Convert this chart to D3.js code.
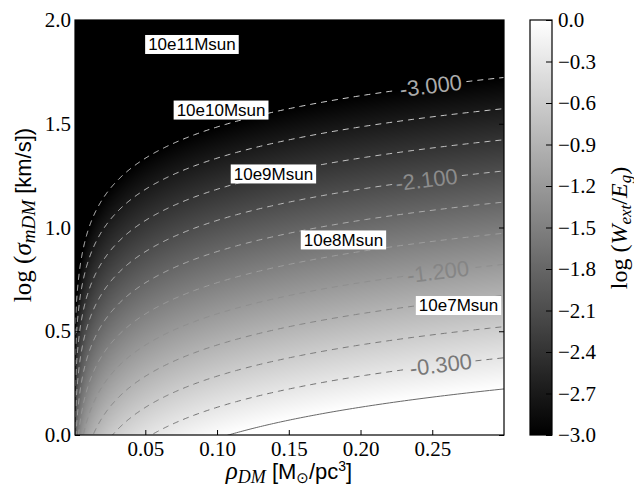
<!DOCTYPE html>
<html>
<head>
<meta charset="utf-8">
<script src="https://cdn.jsdelivr.net/npm/d3@7"></script>
<style>
body { margin: 0; background: #fff; }
</style>
</head>
<body>
<svg id="chart" width="634" height="490"></svg>
<script>
// plot ranges
const rhoRange = [0.001, 0.3];
const logSigmaRange = [0, 2];
const colorRange = [-3, 0];

// the solid 0.0 contour (rho, log sigma)
const zeroContourRho = [0.108, 0.300];
const zeroContourLogSigma = [0.0, 0.222];

const levels = [-3.0, -2.7, -2.4, -2.1, -1.8, -1.5, -1.2, -0.9, -0.6, -0.3, 0.0];
const labelledLevels = [-3.0, -2.1, -1.2, -0.3];
const labelRho = [0.249, 0.246, 0.254, 0.256];

const xTicks = [0.05, 0.10, 0.15, 0.20, 0.25];
const yTicks = [0.0, 0.5, 1.0, 1.5, 2.0];
const cbarTicks = [0.0, -0.3, -0.6, -0.9, -1.2, -1.5, -1.8, -2.1, -2.4, -2.7, -3.0];

const massLabels = ["10e11Msun", "10e10Msun", "10e9Msun", "10e8Msun", "10e7Msun"];
const massRho = [0.0825, 0.1028, 0.1393, 0.1881, 0.2683];
const massLogSigma = [1.882, 1.566, 1.258, 0.940, 0.624];

const pLeft = 75, pRight = 504, pTop = 20, pBottom = 435;
const serif = "'Liberation Serif', serif", sans = "'Liberation Sans', sans-serif";
const svg = d3.select("#chart");

const x = d3.scaleLinear().domain(rhoRange).range([pLeft, pRight]);
const y = d3.scaleLinear().domain(logSigmaRange).range([pBottom, pTop]);
const grey = d3.scaleLinear().domain(colorRange).range([0, 255]).clamp(true);

// log(W/E) = log(rho/rho0) - k (log sigma - s0)
const k = (Math.log10(zeroContourRho[1]) - Math.log10(zeroContourRho[0])) /
          (zeroContourLogSigma[1] - zeroContourLogSigma[0]);
const field = (rho, ls) => Math.log10(rho / zeroContourRho[0]) - k * (ls - zeroContourLogSigma[0]);
const contourAt = (level, rho) => (Math.log10(rho / zeroContourRho[0]) - level) / k + zeroContourLogSigma[0];

// background image
const cw = pRight - pLeft, ch = pBottom - pTop;
const canvas = document.createElement("canvas");
canvas.width = cw; canvas.height = ch;
const ctx = canvas.getContext("2d");
const img = ctx.createImageData(cw, ch);
for (let j = 0; j < ch; j++) {
    const ls = y.invert(pTop + j + 0.5);
    for (let i = 0; i < cw; i++) {
        const g = Math.round(grey(field(x.invert(pLeft + i + 0.5), ls)));
        const p = (j * cw + i) * 4;
        img.data[p] = g; img.data[p + 1] = g; img.data[p + 2] = g; img.data[p + 3] = 255;
    }
}
ctx.putImageData(img, 0, 0);
svg.append("image")
    .attr("x", pLeft).attr("y", pTop)
    .attr("width", cw).attr("height", ch)
    .attr("preserveAspectRatio", "none")
    .attr("href", canvas.toDataURL());

svg.append("clipPath").attr("id", "clip")
  .append("rect").attr("x", pLeft).attr("y", pTop).attr("width", cw).attr("height", ch);

// contours
const lineColor = d3.scaleLinear().domain([-3, -2.1, -1.2, -0.3, 0])
    .range(["#d2d2d2", "#bababa", "#8e8e8e", "#727272", "#686868"]);
const labelColor = d3.scaleLinear().domain([-3, -2.1, -1.2, -0.3])
    .range(["#ababab", "#8c8c8c", "#858585", "#787878"]);
const fmt = d3.formatLocale({decimal: ".", thousands: ",", grouping: [3], currency: ["", ""], minus: "-"}).format(".3f");
const rhoSamples = d3.range(500).map(i => rhoRange[0] * Math.pow(rhoRange[1] / rhoRange[0], i / 499));

const contourG = svg.append("g").attr("clip-path", "url(#clip)");
const labelG = svg.append("g");

levels.forEach(level => {
    const pts = rhoSamples.map(r => [x(r), y(contourAt(level, r))]);
    let gap = null;
    const li = labelledLevels.indexOf(level);
    if (li >= 0) {
        const r = labelRho[li];
        const cx = x(r), cyy = y(contourAt(level, r));
        const dx = x(r + 0.005) - x(r - 0.005);
        const dy = y(contourAt(level, r + 0.005)) - y(contourAt(level, r - 0.005));
        const angle = Math.atan2(dy, dx) * 180 / Math.PI;
        const t = labelG.append("text")
            .attr("transform", `translate(${cx},${cyy}) rotate(${angle})`)
            .attr("text-anchor", "middle")
            .attr("dominant-baseline", "central")
            .style("font-family", sans)
            .style("font-size", "22px")
            .style("fill", labelColor(level))
            .text(fmt(level));
        gap = {cx, cy: cyy, half: t.node().getComputedTextLength() / 2 + 2};
    }
    const line = d3.line()
        .defined(p => !gap || Math.hypot(p[0] - gap.cx, p[1] - gap.cy) > gap.half);
    contourG.append("path")
        .attr("d", line(pts))
        .attr("fill", "none")
        .attr("stroke", lineColor(level))
        .attr("stroke-width", 1)
        .attr("stroke-dasharray", level < 0 ? "6,5" : null);
});

// mass labels
massLabels.forEach((m, i) => {
    const g = svg.append("g").attr("transform", `translate(${x(massRho[i])},${y(massLogSigma[i])})`);
    const t = g.append("text")
        .attr("text-anchor", "middle")
        .attr("dy", "0.35em")
        .style("font-family", sans)
        .style("font-size", "17px")
        .style("fill", "#000")
        .text(m);
    const bb = t.node().getBBox();
    g.insert("rect", "text")
        .attr("x", bb.x - 3).attr("y", -9.5)
        .attr("width", bb.width + 6).attr("height", 19)
        .attr("fill", "#fff");
});

// axes, ticks inside
function styleAxis(g) {
    g.attr("font-family", serif).attr("font-size", 21);
    g.select(".domain").remove();
    g.selectAll(".tick line").attr("stroke", "#000");
    g.selectAll(".tick text")
        .style("font-family", serif)
        .style("font-size", "21px")
        .attr("fill", "#000");
}
svg.append("g").attr("transform", `translate(0,${pBottom})`)
    .call(d3.axisBottom(x).tickValues(xTicks).tickFormat(d3.format(".2f")).tickSize(-5).tickSizeOuter(0).tickPadding(6))
    .call(styleAxis);
svg.append("g").attr("transform", `translate(0,${pTop})`)
    .call(d3.axisTop(x).tickValues(xTicks).tickFormat("").tickSize(-5).tickSizeOuter(0))
    .call(styleAxis);
svg.append("g").attr("transform", `translate(${pLeft},0)`)
    .call(d3.axisLeft(y).tickValues(yTicks).tickFormat(d3.format(".1f")).tickSize(-5).tickSizeOuter(0).tickPadding(4))
    .call(styleAxis);
svg.append("g").attr("transform", `translate(${pRight},0)`)
    .call(d3.axisRight(y).tickValues(yTicks).tickFormat("").tickSize(-5).tickSizeOuter(0))
    .call(styleAxis);

svg.append("rect")
    .attr("x", pLeft).attr("y", pTop).attr("width", cw).attr("height", ch)
    .attr("fill", "none").attr("stroke", "#000").attr("stroke-width", 1.2);

// colorbar
const cbLeft = 530, cbRight = 552;
const cbScale = d3.scaleLinear().domain(colorRange).range([pBottom, pTop]);
const grad = svg.append("defs").append("linearGradient")
    .attr("id", "cbgrad").attr("x1", 0).attr("y1", 1).attr("x2", 0).attr("y2", 0);
grad.selectAll("stop").data(cbarTicks.slice().reverse()).join("stop")
    .attr("offset", d => (d - colorRange[0]) / (colorRange[1] - colorRange[0]))
    .attr("stop-color", d => d3.rgb(grey(d), grey(d), grey(d)));
svg.append("rect")
    .attr("x", cbLeft).attr("y", pTop).attr("width", cbRight - cbLeft).attr("height", ch)
    .attr("fill", "url(#cbgrad)");
svg.append("g").attr("transform", `translate(${cbRight},0)`)
    .call(d3.axisRight(cbScale).tickValues(cbarTicks).tickFormat(d3.format(".1f")).tickSize(-6).tickSizeOuter(0).tickPadding(6))
    .call(styleAxis);
svg.append("rect")
    .attr("x", cbLeft).attr("y", pTop).attr("width", cbRight - cbLeft).attr("height", ch)
    .attr("fill", "none").attr("stroke", "#000").attr("stroke-width", 1.2);

// axis labels
function part(t, text, family, size, opts = {}) {
    const s = t.append("tspan").style("font-family", family).style("font-size", size + "px").text(text);
    if (opts.italic) s.style("font-style", "italic");
    if (opts.dy) s.attr("dy", opts.dy);
    return s;
}

const xl = svg.append("text").attr("x", 289).attr("y", 479).attr("text-anchor", "middle");
part(xl, "ρ", serif, 25, {italic: true});
part(xl, "DM", serif, 18, {italic: true, dy: 4});
part(xl, " [M", sans, 22, {dy: -4});
part(xl, "⊙", "'DejaVu Sans', sans-serif", 15, {dy: 4});
part(xl, "/pc", sans, 22, {dy: -4});
part(xl, "3", sans, 14, {dy: -8});
part(xl, "]", sans, 22, {dy: 8});

const yl = svg.append("text").attr("transform", "translate(31,215) rotate(-90)").attr("text-anchor", "middle");
part(yl, "log (", serif, 25);
part(yl, "σ", serif, 25, {italic: true});
part(yl, "mDM", serif, 19, {italic: true, dy: 4});
part(yl, " [km/s])", sans, 22, {dy: -4});

const cl = svg.append("text").attr("transform", "translate(627,228) rotate(-90)").attr("text-anchor", "middle");
part(cl, "log (", serif, 24);
part(cl, "W", serif, 24, {italic: true});
part(cl, "ext", serif, 17, {italic: true, dy: 4});
part(cl, "/", serif, 24, {dy: -4});
part(cl, "E", serif, 24, {italic: true});
part(cl, "g", serif, 17, {italic: true, dy: 4});
part(cl, ")", serif, 24, {dy: -4});
</script>
</body>
</html>
